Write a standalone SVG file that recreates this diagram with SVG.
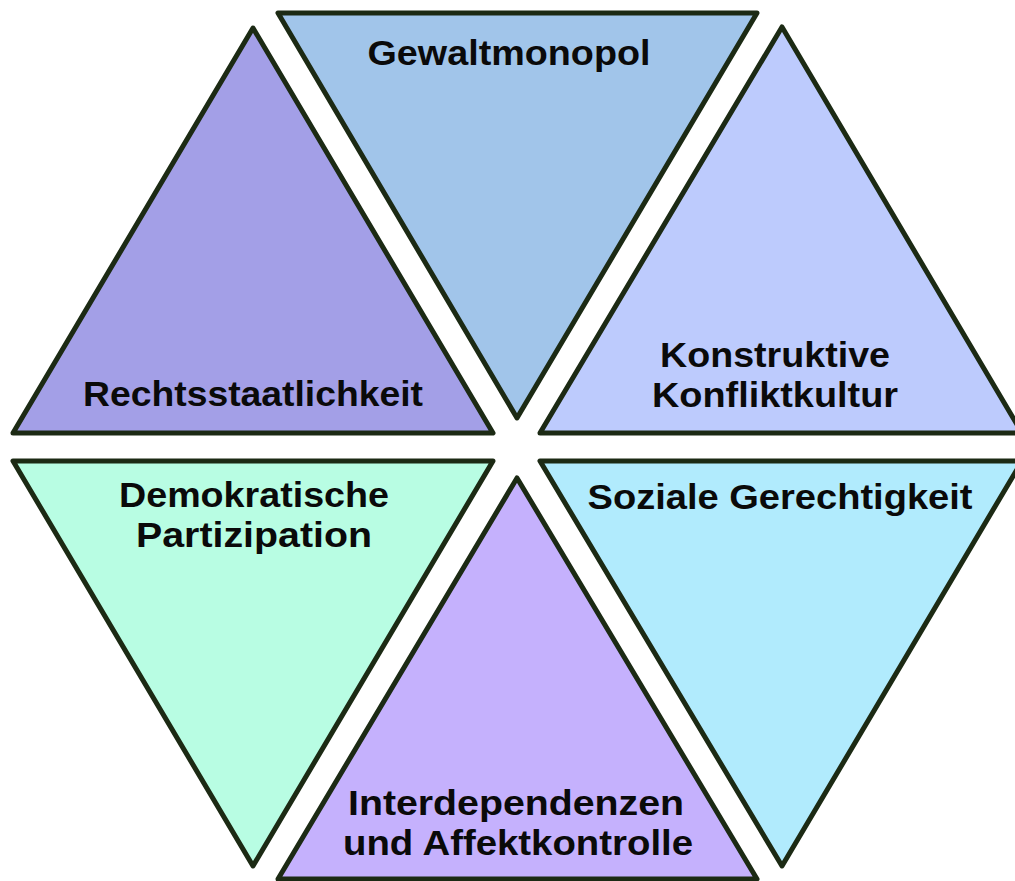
<svg xmlns="http://www.w3.org/2000/svg" width="1015" height="881" viewBox="0 0 1015 881">
<style>
.tri{stroke:#1c2a14;stroke-width:5;stroke-linejoin:round}
.lbl{font-family:"Liberation Sans","Noto Sans","DejaVu Sans",sans-serif;font-size:35.5px;font-weight:bold;fill:#0a0a0a;text-anchor:middle}
</style>
<rect width="1015" height="881" fill="#ffffff"/>
<g id="rechtsstaatlichkeit">
<polygon class="tri" fill="#a39fe7" points="253,28 493,433 13,433"/>
<text class="lbl" x="253" y="406" textLength="340" lengthAdjust="spacingAndGlyphs">Rechtsstaatlichkeit</text>
</g>
<g id="gewaltmonopol">
<polygon class="tri" fill="#a1c5ea" points="278,13 757,13 517,418"/>
<text class="lbl" x="509" y="65" textLength="283" lengthAdjust="spacingAndGlyphs">Gewaltmonopol</text>
</g>
<g id="konstruktive-konfliktkultur">
<polygon class="tri" fill="#bdcbfd" points="782,27 1022,433 540,433"/>
<text class="lbl" x="775" y="367" textLength="230" lengthAdjust="spacingAndGlyphs">Konstruktive</text>
<text class="lbl" x="775" y="407" textLength="246" lengthAdjust="spacingAndGlyphs">Konfliktkultur</text>
</g>
<g id="demokratische-partizipation">
<polygon class="tri" fill="#b8fde3" points="13,461 493,461 253,866"/>
<text class="lbl" x="254" y="507" textLength="270" lengthAdjust="spacingAndGlyphs">Demokratische</text>
<text class="lbl" x="254" y="547" textLength="236" lengthAdjust="spacingAndGlyphs">Partizipation</text>
</g>
<g id="soziale-gerechtigkeit">
<polygon class="tri" fill="#b1ebfd" points="540,461 1022,461 782,866"/>
<text class="lbl" x="780" y="509" textLength="385" lengthAdjust="spacingAndGlyphs">Soziale Gerechtigkeit</text>
</g>
<g id="interdependenzen">
<polygon class="tri" fill="#c5b1fd" points="517,478 757,879 278,879"/>
<text class="lbl" x="516" y="815" textLength="336" lengthAdjust="spacingAndGlyphs">Interdependenzen</text>
<text class="lbl" x="518" y="855" textLength="350" lengthAdjust="spacingAndGlyphs">und Affektkontrolle</text>
</g>
<g id="connectors"></g>
</svg>
